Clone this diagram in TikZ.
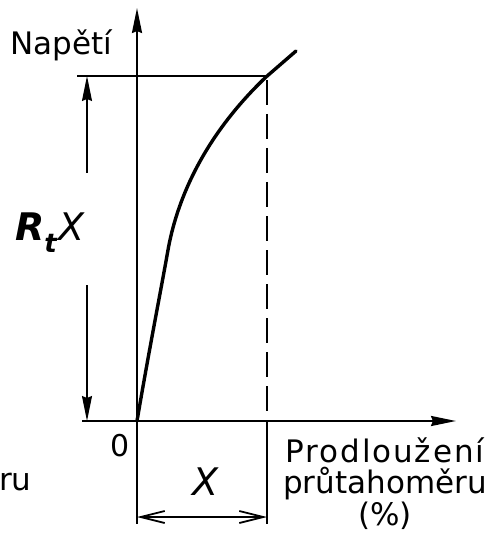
\documentclass[tikz,border=0pt]{standalone}
\usepackage{fontspec}
\setmainfont{DejaVu Sans}
\usetikzlibrary{arrows.meta}
\begin{document}
\begin{tikzpicture}[x=1pt,y=-1pt,
  axis/.style={line width=2.2pt,-{Stealth[length=25pt,width=10pt,inset=2pt]}},
  fine/.style={line width=1.3pt},
  dimhead/.style={line width=1.4pt},
  curve/.style={line width=3.4pt,line cap=round},
  lbl/.style={inner sep=0pt,font=\fontsize{31}{33}\selectfont},
  big/.style={inner sep=0pt,font=\fontsize{38}{40}\selectfont}
]
\useasboundingbox (0,0) rectangle (497,537);
% key points
\coordinate (O) at (137,421);
\coordinate (Ytop) at (137,8);
\coordinate (Xleft) at (82,421);
\coordinate (Xend) at (456,421);
\coordinate (P) at (266,77);
\coordinate (Ptop) at (266,76);
\coordinate (Pdash) at (267,80);
\coordinate (Hleft) at (77,76);
\coordinate (Cend) at (296,51);
\coordinate (Dtop) at (87,76);
\coordinate (Dg1) at (87,173);
\coordinate (Dg2) at (87,285);
\coordinate (Dbot) at (87,421);
\coordinate (Xfoot) at (267,421);
\coordinate (OL) at (137,524);
\coordinate (PL) at (267,524);
\coordinate (DL) at (137,517);
\coordinate (DR) at (267,517);
% axes
\draw[axis] (O) -- (Ytop);
\draw[axis] (Xleft) -- (Xend);
% reference lines
\draw[fine] (Hleft) -- (Ptop);
\draw[line width=1.6pt,dash pattern=on 25pt off 9pt] (Pdash) -- (Xfoot);
\draw[fine] (O) -- (OL);
\draw[fine] (Xfoot) -- (PL);
% vertical dimension
\draw[dimhead,{Stealth[length=25pt,width=10pt,inset=2pt]}-] (Dtop) -- (Dg1);
\draw[dimhead,-{Stealth[length=25pt,width=10pt,inset=2pt]}] (Dg2) -- (Dbot);
% horizontal dimension
\draw[dimhead,{Straight Barb[length=24pt,width=12pt,line width=1.8pt]}-{Straight Barb[length=24pt,width=12pt,line width=1.8pt]}] (DL) -- (DR);
% curve
\draw[curve] (O) .. controls (150,345) and (160,295) .. (168,250)
  .. controls (176,205) and (200,140) .. (P) -- (Cend);
% labels
\node[lbl,anchor=base west] (nap) at (10,55) {Napětí};
\node[inner sep=0pt,font=\fontsize{30}{30}\selectfont,anchor=base] (zero) at (120,456) {0};
\node[lbl,anchor=base west] (ru) at (-1,490) {ru};
\node[lbl,anchor=base] (pr1) at (385,462) {\addfontfeature{LetterSpace=6}Prodloužení};
\node[lbl,anchor=base] (pr2) at (385,493) {průtahoměru};
\node[lbl,anchor=base] (pr3) at (385,525) {(\%)};
\node[big,anchor=base west] (rtx) at (15,240) {{\bfseries\itshape R}\raisebox{-13pt}{\fontsize{26}{26}\selectfont\bfseries\itshape t}\hspace{2pt}{\itshape X}};
\node[big,anchor=base] (xl) at (206,495) {\itshape X};
\end{tikzpicture}
\end{document}
